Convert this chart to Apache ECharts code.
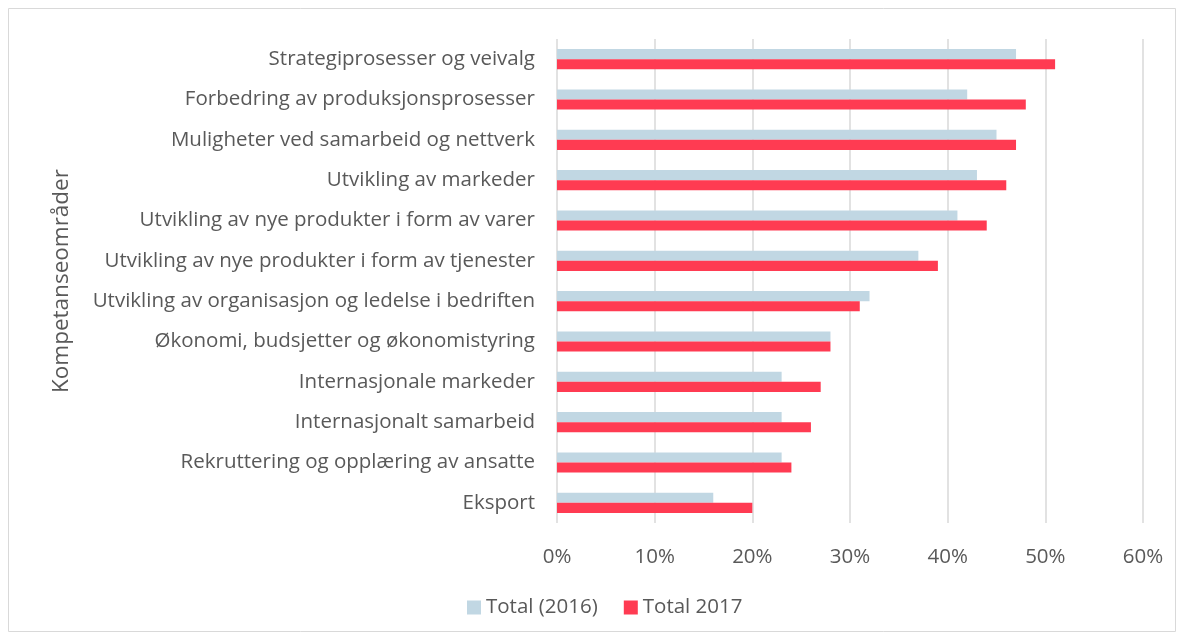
<!DOCTYPE html>
<html>
<head>
<meta charset="utf-8">
<script src="https://cdn.jsdelivr.net/npm/echarts@6/dist/echarts.min.js"></script>
<style>
  html, body { margin: 0; padding: 0; background: #fff; }
  #chart { width: 1184px; height: 640px; }
</style>
</head>
<body>
<div id="chart"></div>
<script>
var categories = [
  'Strategiprosesser og veivalg',
  'Forbedring av produksjonsprosesser',
  'Muligheter ved samarbeid og nettverk',
  'Utvikling av markeder',
  'Utvikling av nye produkter i form av varer',
  'Utvikling av nye produkter i form av tjenester',
  'Utvikling av organisasjon og ledelse i bedriften',
  'Økonomi, budsjetter og økonomistyring',
  'Internasjonale markeder',
  'Internasjonalt samarbeid',
  'Rekruttering og opplæring av ansatte',
  'Eksport'
]
var total2016 = [47, 42, 45, 43, 41, 37, 32, 28, 23, 23, 23, 16]
var total2017 = [51, 48, 47, 46, 44, 39, 31, 28, 27, 26, 24, 20]
var seriesNames = ['Total (2016)', 'Total 2017']

var font = 'Open Sans'
var textColor = '#595959'

var chart = echarts.init(document.getElementById('chart'))
chart.setOption({
  animation: false,
  graphic: [{
    type: 'rect',
    shape: { x: 8.5, y: 8.5, width: 1167, height: 623 },
    style: { fill: 'none', stroke: '#d9d9d9', lineWidth: 1 }
  }],
  legend: {
    bottom: 17,
    left: 462,
    icon: 'rect',
    itemWidth: 14,
    itemHeight: 14,
    itemGap: 26,
    textStyle: { fontFamily: font, fontSize: 20.5, color: textColor },
    data: seriesNames
  },
  grid: { left: 557, right: 41, top: 39, bottom: 117 },
  xAxis: {
    type: 'value',
    min: 0,
    max: 60,
    interval: 10,
    axisLine: { show: false },
    axisTick: { show: false },
    axisLabel: {
      formatter: '{value}%',
      fontFamily: font, fontSize: 20.5, color: textColor, margin: 24
    },
    splitLine: { lineStyle: { color: '#d9d9d9', width: 1.5 } }
  },
  yAxis: {
    type: 'category',
    inverse: true,
    data: categories,
    name: 'Kompetanseområder',
    nameLocation: 'middle',
    nameRotate: 90,
    nameGap: 484,
    nameTextStyle: { fontFamily: font, fontSize: 22.5, color: textColor },
    axisLine: { show: false },
    axisTick: { show: false },
    axisLabel: { fontFamily: font, fontSize: 20.5, color: textColor, margin: 22 }
  },
  series: [
    {
      name: seriesNames[0],
      type: 'bar',
      data: total2016,
      barGap: '0%',
      barCategoryGap: '50%',
      itemStyle: { color: '#c1d7e3' }
    },
    {
      name: seriesNames[1],
      type: 'bar',
      data: total2017,
      barGap: '0%',
      barCategoryGap: '50%',
      itemStyle: { color: '#ff3b52' }
    }
  ]
})
</script>
</body>
</html>
